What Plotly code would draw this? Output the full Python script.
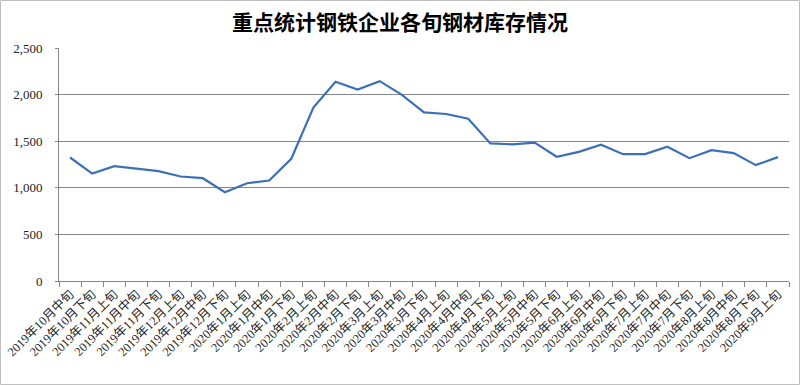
import plotly.graph_objects as go

categories = [
    "2019年10月中旬", "2019年10月下旬", "2019年11月上旬", "2019年11月中旬", "2019年11月下旬",
    "2019年12月上旬", "2019年12月中旬", "2019年12月下旬", "2020年1月上旬", "2020年1月中旬",
    "2020年1月下旬", "2020年2月上旬", "2020年2月中旬", "2020年2月下旬", "2020年3月上旬",
    "2020年3月中旬", "2020年3月下旬", "2020年4月上旬", "2020年4月中旬", "2020年4月下旬",
    "2020年5月上旬", "2020年5月中旬", "2020年5月下旬", "2020年6月上旬", "2020年6月中旬",
    "2020年6月下旬", "2020年7月上旬", "2020年7月中旬", "2020年7月下旬", "2020年8月上旬",
    "2020年8月中旬", "2020年8月下旬", "2020年9月上旬",
]
inventory = [
    1325, 1153, 1232, 1207, 1178, 1121, 1103, 952, 1049, 1078,
    1311, 1861, 2137, 2055, 2144, 1998, 1810, 1792, 1742, 1476,
    1466, 1484, 1333, 1386, 1462, 1361, 1361, 1440, 1318, 1404,
    1372, 1243, 1329,
]
y_ticks = [0, 500, 1000, 1500, 2000, 2500]

font_family = "Liberation Serif, Noto Sans CJK SC, serif"

fig = go.Figure()
fig.add_trace(go.Scatter(
    x=categories, y=inventory, mode="lines",
    line=dict(color="#3c70b6", width=2.2),
    hoverinfo="x+y",
))

L, R, T, B, W, H = 59, 11, 48, 104, 800, 385
pw = W - L - R
ph = H - T - B

fig.update_layout(
    width=W, height=H,
    margin=dict(l=L, r=R, t=T, b=B, autoexpand=False),
    paper_bgcolor="white", plot_bgcolor="white",
    showlegend=False,
    title=dict(
        text="<b>重点统计钢铁企业各旬钢材库存情况</b>",
        x=0.5, xref="container", xanchor="center",
        y=1 - 23 / H, yref="container", yanchor="middle",
        font=dict(family="Noto Sans CJK SC", size=21, color="#000000"),
    ),
    xaxis=dict(
        type="category",
        tickangle=-45,
        tickson="boundaries",
        ticks="outside", ticklen=5, tickcolor="#868686",
        showline=True, linecolor="#868686", linewidth=1,
        showgrid=False,
        tickfont=dict(family=font_family, size=12.5, color="#222222"),
        range=[-0.5, len(categories) - 0.5],
        automargin=False,
        fixedrange=True,
    ),
    yaxis=dict(
        range=[0, 2500],
        tickvals=y_ticks,
        tickformat=",",
        ticks="outside", ticklen=3, tickcolor="#868686",
        ticklabelstandoff=10,
        showline=True, linecolor="#868686", linewidth=1,
        showgrid=True, gridcolor="#868686", gridwidth=1,
        zeroline=False,
        tickfont=dict(family=font_family, size=13, color="#222222"),
        automargin=False,
        fixedrange=True,
    ),
    shapes=[dict(
        type="rect", xref="paper", yref="paper",
        x0=-(L - 0.5) / pw, x1=(W - L - 0.5) / pw,
        y0=-(B - 0.5) / ph, y1=(ph + T - 0.5) / ph,
        line=dict(color="#bfbfbf", width=1),
        fillcolor="rgba(0,0,0,0)", layer="above",
    )],
)

fig.write_html(
    "out.html",
    config={"displayModeBar": False},
    post_script="document.body.style.margin='0';document.body.style.padding='0';document.body.style.overflow='hidden';",
)
